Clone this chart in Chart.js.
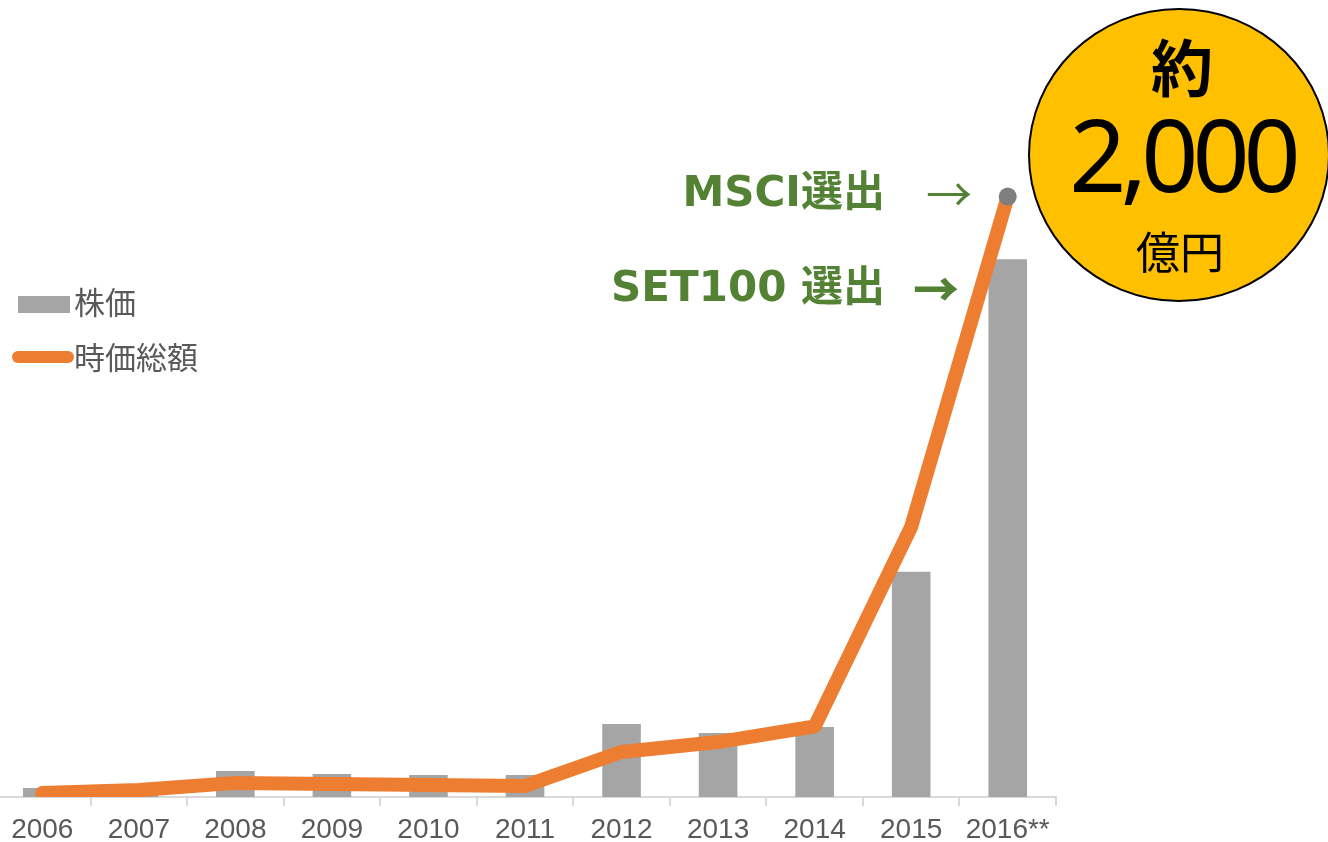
<!DOCTYPE html>
<html>
<head>
<meta charset="utf-8">
<script src="https://cdn.jsdelivr.net/npm/chart.js@4.4.1/dist/chart.umd.min.js"></script>
<style>
  html, body { margin: 0; padding: 0; width: 1328px; height: 842px; overflow: hidden; background: #fff; }
  #wrap { position: absolute; left: -15px; top: 0; width: 1343px; height: 842px; }
  .abs { position: absolute; white-space: nowrap; line-height: 1; }
  .green { color: #548235; font-weight: bold; font-family: 'DejaVu Sans', 'Noto Sans CJK JP', sans-serif; font-size: 42px; }
  .leg { font-family: 'Noto Sans CJK JP', sans-serif; font-size: 31px; color: #595959; }
  #circle { position: absolute; left: 1028px; top: 8px; width: 302px; height: 294px; box-sizing: border-box;
            border: 2px solid #000; border-radius: 50%; background: #FFC000; }
</style>
</head>
<body>
<div id="wrap"><canvas id="c" width="1343" height="842"></canvas></div>

<div class="abs" style="left:18px; top:296px; width:52px; height:17px; background:#A5A5A5;"></div>
<div class="abs leg" id="leg1" style="left:74px; top:285px;"></div>
<div class="abs" style="left:12px; top:351px; width:62px; height:12px; border-radius:6px; background:#ED7D31;"></div>
<div class="abs leg" id="leg2" style="left:74px; top:340px;"></div>

<div class="abs green" style="right:443px; top:171px;">MSCI選出</div>
<div class="abs" style="left:926px; top:168px; font-family:'Noto Sans CJK JP'; font-size:46px; color:#548235;">→</div>
<div class="abs green" style="right:443px; top:266px;">SET100 選出</div>
<div class="abs" style="left:913px; top:263px; font-family:'Noto Sans CJK JP'; font-weight:900; font-size:46px; color:#548235;">→</div>

<div id="circle"></div>
<div class="abs" style="left:1082px; width:200px; text-align:center; top:34px; font-family:'Noto Sans CJK JP'; font-weight:bold; font-size:62px; color:#000;">約</div>
<div class="abs" style="left:1032px; width:300px; text-align:center; top:103px; font-family:'Noto Sans'; font-size:100px; letter-spacing:-6px; color:#000;">2,000</div>
<div class="abs" style="left:1080px; width:200px; text-align:center; top:228px; font-family:'Noto Sans CJK JP'; font-size:44px; color:#000;">億円</div>

<script>
// Categories (fiscal years)
const years = ['2006', '2007', '2008', '2009', '2010', '2011', '2012', '2013', '2014', '2015', '2016**'];
// Stock price (relative index)
const stockPrice = [9, 4, 26, 23, 22, 22, 73, 64, 70, 225, 537];
// Market capitalisation (億円)
const marketCap = [13, 23, 47, 43, 40, 37, 150, 183, 235, 900, 2000];
const seriesNames = ['株価', '時価総額'];

document.getElementById('leg1').textContent = seriesNames[0];
document.getElementById('leg2').textContent = seriesNames[1];

const lastIdx = marketCap.length - 1;
new Chart(document.getElementById('c'), {
  data: {
    labels: years,
    datasets: [
      {
        type: 'line',
        label: seriesNames[1],
        data: marketCap,
        yAxisID: 'yCap',
        borderColor: '#ED7D31',
        borderWidth: 14,
        borderCapStyle: 'round',
        borderJoinStyle: 'round',
        tension: 0,
        pointRadius: marketCap.map((v, i) => i === lastIdx ? 9 : 0),
        pointBackgroundColor: '#7F7F7F',
        pointBorderWidth: 0,
        order: 0
      },
      {
        type: 'bar',
        label: seriesNames[0],
        data: stockPrice,
        yAxisID: 'yPrice',
        backgroundColor: '#A5A5A5',
        categoryPercentage: 1,
        barPercentage: 0.4,
        order: 1
      }
    ]
  },
  options: {
    responsive: false,
    animation: false,
    devicePixelRatio: 1,
    layout: { padding: { top: 0, left: 0, right: 272, bottom: 0 } },
    plugins: { legend: { display: false }, tooltip: { enabled: false } },
    scales: {
      x: {
        type: 'category',
        offset: true,
        afterFit: (s) => { s.height = 45; },
        grid: { display: true, drawOnChartArea: false, drawTicks: true, tickLength: 9, color: '#D9D9D9', lineWidth: 2, offset: true },
        border: { display: true, color: '#D9D9D9', width: 2 },
        ticks: { color: '#595959', padding: 10, font: { family: "'Liberation Sans Narrow', 'Liberation Sans', sans-serif", size: 28, lineHeight: 1 }, maxRotation: 0, autoSkip: false }
      },
      yPrice: { display: false, min: 0, max: 787 },
      yCap: { display: false, min: 0, max: 2625 }
    }
  }
});
</script>
</body>
</html>
